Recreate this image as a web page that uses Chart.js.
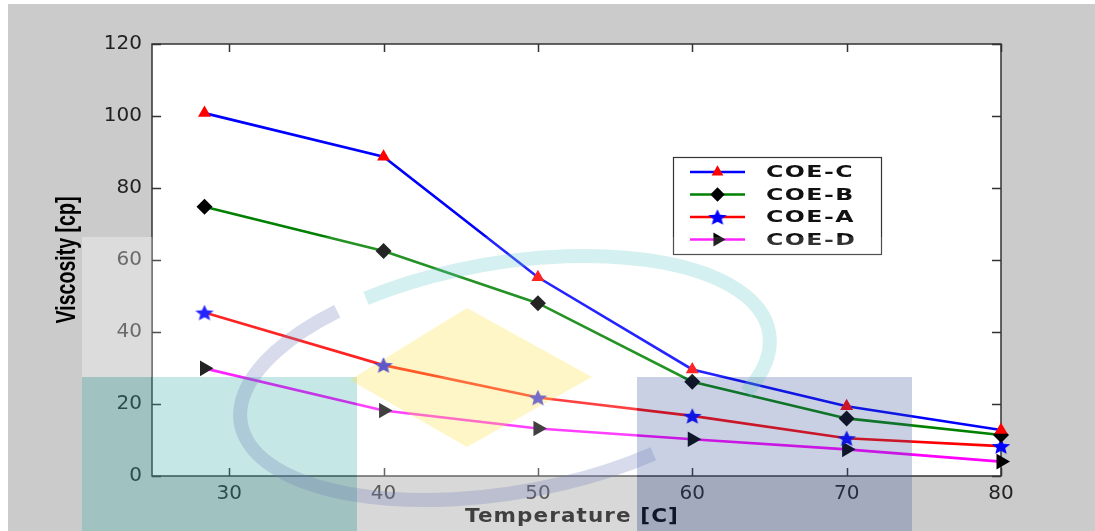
<!DOCTYPE html>
<html>
<head>
<meta charset="utf-8">
<title>Viscosity vs Temperature</title>
<script src="https://cdn.jsdelivr.net/npm/chart.js@4/dist/chart.umd.min.js"></script>
<style>
  html, body { margin: 0; padding: 0; background: #fff; }
  #wrap { width: 1095px; height: 531px; }
</style>
</head>
<body>
<div id="wrap"><canvas id="viscosity" width="1095" height="531"></canvas></div>
<script>
// temperature [C] and viscosity [cp] per sample
const temperatures = [28.4, 40, 50, 60, 70, 80];
const coeC = [100.8, 88.7, 55.2, 29.6, 19.4, 12.8];
const coeB = [74.8, 62.5, 48, 26.2, 16, 11.4];
const coeA = [45.4, 30.8, 21.8, 16.7, 10.5, 8.3];
const coeD = [29.9, 18.2, 13.2, 10.2, 7.4, 4.0];
const seriesNames = ['COE-C', 'COE-B', 'COE-A', 'COE-D'];
const xTicks = [30, 40, 50, 60, 70, 80];
const yTicks = [0, 20, 40, 60, 80, 100, 120];

const xTitle = 'Temperature [C]';
const yTitle = 'Viscosity [cp]';

// filled five point star, chart.js only has the outline one
function starMarker(r, color) {
  const c = document.createElement('canvas');
  const w = Math.round(r * 2.4), h = Math.round(r * 2.1);
  c.width = w; c.height = h;
  const g = c.getContext('2d');
  g.fillStyle = color;
  g.beginPath();
  for (let i = 0; i < 10; i++) {
    const rr = i % 2 ? r * 0.45 : r;
    const a = -Math.PI / 2 + i * Math.PI / 5;
    g.lineTo(w / 2 + Math.cos(a) * rr * 1.15, h / 2 + r * 0.1 + Math.sin(a) * rr);
  }
  g.closePath();
  g.fill();
  return c;
}

function points(values) {
  return values.map((v, i) => ({ x: temperatures[i], y: v }));
}

const datasets = [
  { label: seriesNames[0], data: points(coeC), borderColor: '#0000ff', pointBackgroundColor: '#ff0000',
    pointBorderColor: '#ff0000', pointStyle: 'triangle', pointRadius: 7.5, pointRotation: 0 },
  { label: seriesNames[1], data: points(coeB), borderColor: '#008000', pointBackgroundColor: '#000',
    pointBorderColor: '#000', pointStyle: 'rectRot', pointRadius: 8, pointRotation: 0 },
  { label: seriesNames[2], data: points(coeA), borderColor: '#ff0000', pointBackgroundColor: '#0000ff',
    pointBorderColor: '#0000ff', pointStyle: starMarker(8.5, '#0000ff'), pointRadius: 8.5, pointRotation: 0 },
  { label: seriesNames[3], data: points(coeD), borderColor: '#ff00ff', pointBackgroundColor: '#000',
    pointBorderColor: '#000', pointStyle: 'triangle', pointRadius: 9, pointRotation: 90 }
];
datasets.forEach(d => {
  d.borderWidth = 2.6;
  d.pointBorderWidth = 0;
  d.tension = 0;
  d.clip = false;
});

const frame = {
  id: 'frame',
  beforeDraw(chart) {
    const ctx = chart.ctx;
    ctx.save();
    ctx.fillStyle = '#cbcbcb';
    ctx.fillRect(8, 4, chart.width - 8, chart.height - 4);
    const a = chart.chartArea;
    ctx.fillStyle = '#fff';
    ctx.fillRect(a.left, a.top, a.right - a.left, a.bottom - a.top);
    ctx.restore();
  },
  beforeDatasetsDraw(chart) {
    const ctx = chart.ctx, a = chart.chartArea;
    const xs = chart.scales.x, ys = chart.scales.y;
    ctx.save();
    ctx.strokeStyle = '#333';
    ctx.lineWidth = 1.5;
    ctx.strokeRect(a.left, a.top, a.right - a.left, a.bottom - a.top);
    ctx.beginPath();
    xTicks.forEach(v => {
      const px = Math.round(xs.getPixelForValue(v)) + 0.5;
      ctx.moveTo(px, a.bottom); ctx.lineTo(px, a.bottom - 8);
      ctx.moveTo(px, a.top); ctx.lineTo(px, a.top + 8);
    });
    yTicks.forEach(v => {
      const py = Math.round(ys.getPixelForValue(v)) + 0.5;
      ctx.moveTo(a.left, py); ctx.lineTo(a.left + 9, py);
      ctx.moveTo(a.right, py); ctx.lineTo(a.right - 9, py);
    });
    ctx.stroke();

    // axis titles, stretched like the old figure export
    ctx.fillStyle = '#000';
    ctx.textAlign = 'center';
    ctx.textBaseline = 'middle';
    ctx.font = 'bold 20px "DejaVu Sans"';
    ctx.letterSpacing = '1px';
    const wx = ctx.measureText(xTitle).width;
    ctx.save();
    ctx.translate(572, 517);
    ctx.scale(214 / wx, 1);
    ctx.fillText(xTitle, 0, 0);
    ctx.restore();

    ctx.letterSpacing = '0px';
    ctx.font = 'bold 21px "Liberation Sans"';
    const wy = ctx.measureText(yTitle).width;
    ctx.save();
    ctx.translate(67, 260);
    ctx.rotate(-Math.PI / 2);
    ctx.scale(127 / wy, 1.3);
    ctx.fillText(yTitle, 0, 0);
    ctx.restore();
    ctx.restore();
  },
  afterDatasetsDraw(chart) {
    // legend box inside the plot
    const ctx = chart.ctx;
    const box = { x: 673, y: 157, w: 208, h: 97 };
    const rows = [172, 194.5, 217, 239.5];
    ctx.save();
    ctx.fillStyle = '#fff';
    ctx.fillRect(box.x, box.y, box.w, box.h);
    ctx.strokeStyle = '#333';
    ctx.lineWidth = 1.2;
    ctx.strokeRect(box.x + 0.5, box.y + 0.5, box.w, box.h);
    ctx.font = 'bold 16px "DejaVu Sans"';
    ctx.letterSpacing = '1px';
    const sx = 88 / ctx.measureText('COE-C').width;
    chart.data.datasets.forEach((d, i) => {
      const y = rows[i];
      ctx.strokeStyle = d.borderColor;
      ctx.lineWidth = d.borderWidth;
      ctx.beginPath();
      ctx.moveTo(690, y); ctx.lineTo(745, y);
      ctx.stroke();
      ctx.fillStyle = d.pointBackgroundColor;
      ctx.strokeStyle = d.pointBorderColor;
      ctx.lineWidth = 0.01;
      Chart.helpers.drawPoint(ctx, { pointStyle: d.pointStyle, rotation: d.pointRotation,
        radius: d.pointRadius * 0.9, borderWidth: 0 }, 717.5, y);
      ctx.save();
      ctx.fillStyle = '#111';
      ctx.textBaseline = 'middle';
      ctx.translate(766, y + 1);
      ctx.scale(sx, 1);
      ctx.fillText(d.label, 0, 0);
      ctx.restore();
    });
    ctx.restore();
  },
  afterDraw(chart) {
    // faint logo stamped over the figure
    const ctx = chart.ctx;
    const a = chart.chartArea;
    ctx.save();
    ctx.fillStyle = 'rgba(255,255,255,0.33)';
    ctx.fillRect(82, 237, a.left - 82, 140);
    ctx.fillStyle = 'rgba(255,255,255,0.14)';
    ctx.fillRect(a.left, 237, 912 - a.left, 140);
    ctx.fillStyle = 'rgba(255,255,255,0.25)';
    ctx.fillRect(357, 377, 280, 154);
    ctx.fillStyle = 'rgba(62,178,172,0.3)';
    ctx.fillRect(82, 377, 275, 154);
    ctx.fillStyle = 'rgba(55,81,151,0.27)';
    ctx.fillRect(637, 377, 275, 154);

    ctx.fillStyle = 'rgba(255,222,55,0.28)';
    ctx.beginPath();
    ctx.moveTo(467, 308); ctx.lineTo(592, 377); ctx.lineTo(467, 447); ctx.lineTo(350, 380);
    ctx.closePath();
    ctx.fill();

    ctx.lineWidth = 14;
    ctx.strokeStyle = 'rgba(98,198,198,0.27)';
    ctx.beginPath();
    ctx.ellipse(505, 378, 268, 115, -0.17, -2.05, 0.5);
    ctx.stroke();
    ctx.strokeStyle = 'rgba(112,126,184,0.28)';
    ctx.beginPath();
    ctx.ellipse(505, 378, 268, 115, -0.17, 1.05, 4.1);
    ctx.stroke();
    ctx.restore();
  }
};

new Chart(document.getElementById('viscosity'), {
  type: 'line',
  data: { datasets },
  options: {
    responsive: false,
    animation: false,
    layout: { padding: { left: 0, top: 44, right: 94, bottom: 0 } },
    plugins: { legend: { display: false }, tooltip: { enabled: false } },
    scales: {
      x: {
        type: 'linear',
        min: 25,
        max: 80,
        grid: { display: false, drawTicks: false },
        border: { display: false },
        afterBuildTicks: s => { s.ticks = xTicks.map(v => ({ value: v })); },
        afterFit: s => { s.height = 55; },
        ticks: { padding: 6, color: '#222', font: { family: 'DejaVu Sans', size: 20 }, maxRotation: 0 }
      },
      y: {
        min: 0,
        max: 120,
        grid: { display: false, drawTicks: false },
        border: { display: false },
        afterBuildTicks: s => { s.ticks = yTicks.map(v => ({ value: v })); },
        afterFit: s => { s.width = 152; },
        ticks: { padding: 10, color: '#222', font: { family: 'DejaVu Sans', size: 20 } }
      }
    }
  },
  plugins: [frame]
});
</script>
</body>
</html>
